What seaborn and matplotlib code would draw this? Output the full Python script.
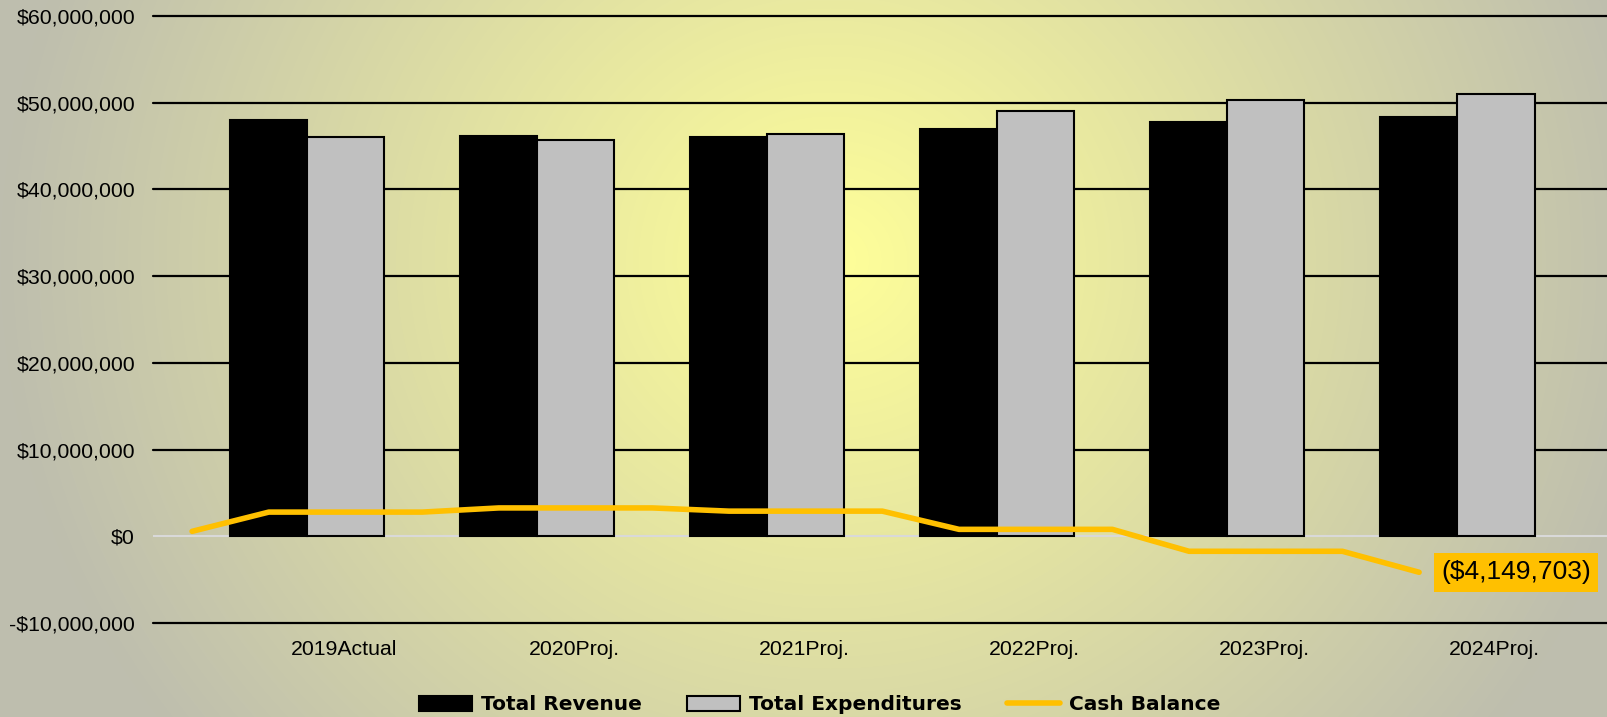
import numpy as np
import pandas as pd
import seaborn as sns
import matplotlib.pyplot as plt
from matplotlib.patches import Patch
from matplotlib.lines import Line2D

# data
years = ['2019Actual', '2020Proj.', '2021Proj.', '2022Proj.', '2023Proj.', '2024Proj.']
total_revenue = [48000000, 46200000, 46100000, 47000000, 47800000, 48400000]
total_expenditures = [46000000, 45700000, 46400000, 49000000, 50300000, 51000000]
cash_opening = 570000
cash_balance = [2790000, 3270000, 2900000, 800000, -1730000, -4149703]
yticks = [-10000000, 0, 10000000, 20000000, 30000000, 40000000, 50000000, 60000000]

df = pd.DataFrame({
    'year': years * 2,
    'series': ['Total Revenue'] * len(years) + ['Total Expenditures'] * len(years),
    'value': total_revenue + total_expenditures,
})

sns.set_style('white')
plt.rcParams['font.family'] = ['Liberation Sans', 'DejaVu Sans']
plt.rcParams['text.color'] = 'black'
plt.rcParams['xtick.color'] = 'black'
plt.rcParams['ytick.color'] = 'black'

fig = plt.figure(figsize=(16.08, 7.17), dpi=100)

# radial gradient background
bg = fig.add_axes([0, 0, 1, 1])
W, H = 1608, 717
xx, yy = np.meshgrid(np.arange(W), np.arange(H))
t = np.sqrt(((xx - 830) / 830.0) ** 2 + ((yy - 260) / 780.0) ** 2)
t = np.clip(t, 0, 1)[..., None]
c0 = np.array([255, 255, 153]) / 255.0
c1 = np.array([190, 190, 174]) / 255.0
img = c0 * (1 - t) + c1 * t
bg.imshow(img, aspect='auto', extent=[0, 1, 0, 1], origin='upper')
bg.set_axis_off()

ax = fig.add_axes([153 / 1608, 94 / 717, 1454 / 1608, 607 / 717])
ax.patch.set_alpha(0)

sns.barplot(data=df, x='year', y='value', hue='series',
            palette=['#000000', '#C0C0C0'], width=0.67, saturation=1,
            edgecolor='black', linewidth=1.5, legend=False, ax=ax, zorder=3)

# cash balance line (Excel style offset points)
line_x = [-0.5]
line_y = [cash_opening]
for i, v in enumerate(cash_balance):
    line_x.append(i - 1 / 6)
    line_y.append(v)
    if i < len(cash_balance) - 1:
        line_x.append(i + 0.5)
        line_y.append(v)
sns.lineplot(x=line_x, y=line_y, color='#FFC000', linewidth=4, sort=False,
             ax=ax, zorder=5, solid_capstyle='round')

ax.annotate(f"(${abs(cash_balance[-1]):,})", xy=(line_x[-1], line_y[-1]),
            xytext=(16, 0), textcoords='offset points', ha='left', va='center',
            fontsize=19, color='black', zorder=6,
            bbox=dict(boxstyle='square,pad=0.28', fc='#FFC000', ec='none'))

# grid
ax.set_ylim(-10000000, 60000000)
ax.set_xlim(-0.67, 5.65)
ax.set_yticks(yticks)
ax.set_yticklabels([f"-${abs(v):,}" if v < 0 else f"${v:,}" for v in yticks])
for v in yticks:
    if v == 0:
        ax.axhline(v, color='#D9D9D9', lw=1.5, zorder=2)
    else:
        ax.axhline(v, color='black', lw=1.6, zorder=1, clip_on=False)

ax.set_xticks([i + 0.16 for i in range(len(years))])
ax.set_xticklabels(years)
ax.set_xlabel('')
ax.set_ylabel('')
ax.tick_params(axis='y', length=0, pad=13, labelsize=15.3, labelcolor='black')
ax.tick_params(axis='x', length=0, pad=12, labelsize=15.3, labelcolor='black')
for s in ax.spines.values():
    s.set_visible(False)

handles = [
    Patch(facecolor='black', edgecolor='black', lw=1.5),
    Patch(facecolor='#C0C0C0', edgecolor='black', lw=1.5),
    Line2D([0], [0], color='#FFC000', lw=4),
]
labels = ['Total Revenue', 'Total Expenditures', 'Cash Balance']
leg = fig.legend(handles, labels, loc='center', bbox_to_anchor=(820 / 1608, 12 / 717),
                 ncol=3, frameon=False, handlelength=2.63, handleheight=0.73,
                 handletextpad=0.45, columnspacing=2.24, borderaxespad=0,
                 prop={'family': 'DejaVu Sans', 'weight': 'bold', 'size': 14.5})
for txt in leg.get_texts():
    txt.set_color('black')

fig.savefig('out.png', dpi=100)
